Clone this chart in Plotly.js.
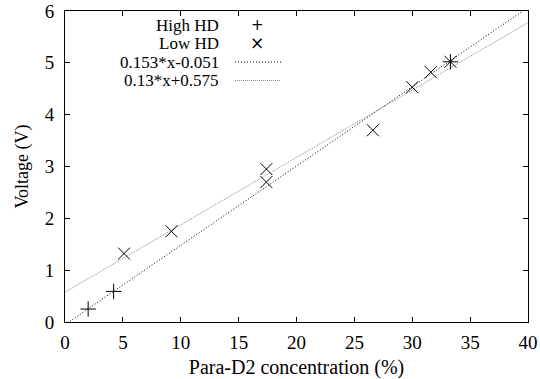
<!DOCTYPE html>
<html>
<head>
<meta charset="utf-8">
<script src="https://cdn.plot.ly/plotly-3.0.1.min.js"></script>
<style>html,body{margin:0;padding:0;background:#fff;}#c{width:540px;height:379px;}</style>
</head>
<body>
<div id="c"></div>
<script>
// Data
const highX = [2.0, 4.2, 33.3];
const highY = [0.25, 0.59, 5.02];
const lowX = [5.1, 9.2, 17.4, 17.4, 26.6, 30.0, 31.6, 33.3];
const lowY = [1.32, 1.75, 2.95, 2.70, 3.70, 4.53, 4.82, 5.02];
const fit1 = {slope: 0.153, icpt: -0.051, label: '0.153*x-0.051'};
const fit2 = {slope: 0.13, icpt: 0.575, label: '0.13*x+0.575'};
const fitX = [0, 40];
const xTicks = [0, 5, 10, 15, 20, 25, 30, 35, 40];
const yTicks = [0, 1, 2, 3, 4, 5, 6];
const legendLabels = ['High HD', 'Low HD', fit1.label, fit2.label];

const W = 540, H = 379;
const M = {l: 65, r: 12, t: 11, b: 57};
const pw = W - M.l - M.r, ph = H - M.t - M.b;
const px = v => (v - M.l) / pw;
const py = v => 1 - (v - M.t) / ph;

const traces = [
  {x: fitX, y: fitX.map(x => fit1.slope * x + fit1.icpt), mode: 'lines',
   line: {color: '#000', width: 1, dash: '1px,2px'}, showlegend: false, hoverinfo: 'skip'},
  {x: fitX, y: fitX.map(x => fit2.slope * x + fit2.icpt), mode: 'lines',
   line: {color: '#8a8a8a', width: 1, dash: '1px,1px'}, showlegend: false, hoverinfo: 'skip'},
  {x: highX, y: highY, mode: 'markers', name: 'High HD',
   marker: {symbol: 'cross-thin', size: 11, line: {color: '#000', width: 1}}, showlegend: false},
  {x: lowX, y: lowY, mode: 'markers', name: 'Low HD',
   marker: {symbol: 'x-thin', size: 12, line: {color: '#000', width: 1}}, showlegend: false}
];

const tickFont = {family: 'Liberation Serif', size: 19, color: '#000'};
const xTitleFont = {family: 'Liberation Serif', size: 20, color: '#000'};
const yTitleFont = {family: 'Liberation Serif', size: 18, color: '#000'};
const legFont = {family: 'Liberation Serif', size: 17, color: '#000'};
const rowY = [25, 43.5, 62, 80.5];
const annotations = legendLabels.map((t, i) => ({
  xref: 'paper', yref: 'paper', x: px(220), y: py(rowY[i]), xanchor: 'right', yanchor: 'middle',
  text: t, showarrow: false, font: legFont, borderpad: 0
}));
annotations.push({xref: 'paper', yref: 'paper', x: px(257), y: py(rowY[0]), xanchor: 'center', yanchor: 'middle',
  text: '+', showarrow: false, font: {family: 'DejaVu Sans', size: 15, color: '#000'}, borderpad: 0});
annotations.push({xref: 'paper', yref: 'paper', x: px(257), y: py(rowY[1]), xanchor: 'center', yanchor: 'middle',
  text: '\u00d7', showarrow: false, font: {family: 'DejaVu Sans', size: 17, color: '#000'}, borderpad: 0});

const shapes = [
  {type: 'line', xref: 'paper', yref: 'paper', x0: px(235), x1: px(281), y0: py(rowY[2]), y1: py(rowY[2]),
   line: {color: '#000', width: 1, dash: '1px,2px'}},
  {type: 'line', xref: 'paper', yref: 'paper', x0: px(235), x1: px(281), y0: py(rowY[3]), y1: py(rowY[3]),
   line: {color: '#8a8a8a', width: 1, dash: '1px,1px'}}
];

const axisCommon = {
  showline: true, linecolor: '#000', linewidth: 1, mirror: 'ticks',
  ticks: 'inside', ticklen: 5, tickcolor: '#000', tickwidth: 1,
  showgrid: false, zeroline: false, tickfont: tickFont
};

const layout = {
  width: W, height: H, margin: M,
  font: tickFont,
  paper_bgcolor: '#fff', plot_bgcolor: '#fff',
  showlegend: false,
  xaxis: Object.assign({}, axisCommon, {range: [0, 40], tickvals: xTicks, ticktext: xTicks.map(String),
    ticklabelstandoff: 3,
    title: {text: 'Para-D2 concentration (%)', font: xTitleFont, standoff: 8}}),
  yaxis: Object.assign({}, axisCommon, {range: [0, 6], tickvals: yTicks, ticktext: yTicks.map(String),
    ticklabelstandoff: 6,
    title: {text: 'Voltage (V)', font: yTitleFont, standoff: 11}}),
  annotations: annotations,
  shapes: shapes
};

Plotly.newPlot('c', traces, layout, {staticPlot: true, displayModeBar: false});
</script>
</body>
</html>
